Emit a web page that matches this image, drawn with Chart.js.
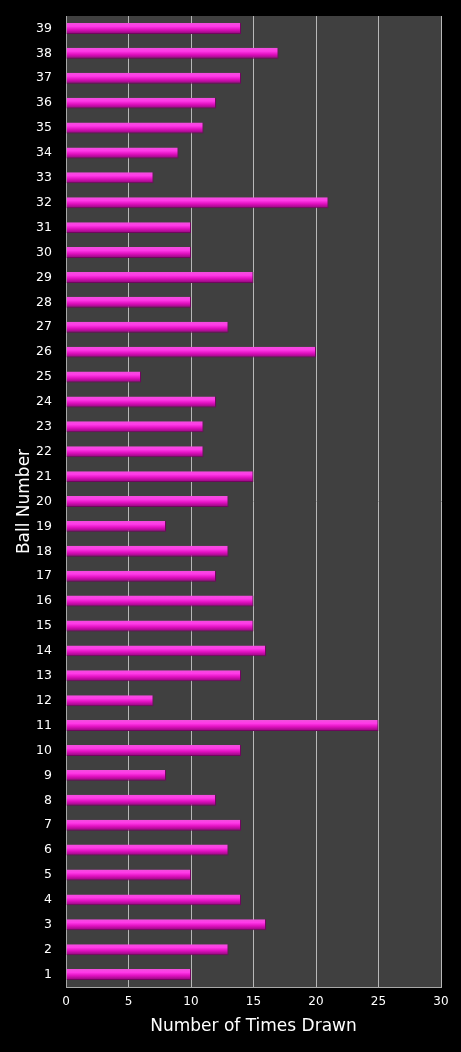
<!DOCTYPE html>
<html>
<head>
<meta charset="utf-8">
<script src="https://cdn.jsdelivr.net/npm/chart.js@4.4.0/dist/chart.umd.min.js"></script>
<style>
html,body{margin:0;padding:0;background:#000;}
#wrap{width:461px;height:1052px;}
</style>
</head>
<body>
<div id="wrap"><canvas id="c" width="461" height="1052"></canvas></div>
<script>
const ballNumbers = ["1","2","3","4","5","6","7","8","9","10","11","12","13","14","15","16","17","18","19","20","21","22","23","24","25","26","27","28","29","30","31","32","33","34","35","36","37","38","39"];
const timesDrawn = [10,13,16,14,10,13,14,12,8,14,25,7,14,16,15,15,12,13,8,13,15,11,11,12,6,20,13,10,15,10,10,21,7,9,11,12,14,17,14];
const xTicks = [0,5,10,15,20,25,30];
const xTitle = "Number of Times Drawn";
const yTitle = "Ball Number";

const plotBg = {
  id:'plotBg',
  beforeDraw(chart){
    const {ctx, chartArea:a} = chart;
    ctx.save();
    ctx.fillStyle='#000';
    ctx.fillRect(0,0,chart.width,chart.height);
    ctx.fillStyle='#404040';
    ctx.fillRect(a.left,a.top,a.right-a.left,a.bottom-a.top);
    ctx.restore();
  }
};
const barGrad = {
  id:'barGrad',
  beforeDatasetsDraw(chart){
    const ctx = chart.ctx;
    chart.getDatasetMeta(0).data.forEach(el=>{
      const top = el.y - el.height/2, bot = el.y + el.height/2;
      const g = ctx.createLinearGradient(0, top, 0, bot);
      g.addColorStop(0, '#f050dc');
      g.addColorStop(0.3, '#ff3ae8');
      g.addColorStop(0.6, '#e010c0');
      g.addColorStop(1, '#8a0874');
      el.options = Object.assign(Object.create(el.options), {backgroundColor: g});
    });
  }
};

new Chart(document.getElementById('c'), {
  type:'bar',
  data:{
    labels: ballNumbers,
    datasets:[{
      data: timesDrawn,
      backgroundColor:'#e010c0',
      borderColor:'#70065e',
      borderWidth:{top:0,left:0,right:1,bottom:1},
      categoryPercentage:1,
      barPercentage:0.44
    }]
  },
  options:{
    indexAxis:'y',
    responsive:false,
    animation:false,
    layout:{padding:{top:16,right:20,left:14,bottom:15}},
    plugins:{legend:{display:false},tooltip:{enabled:false}},
    scales:{
      x:{
        min:0,max:30,
        afterBuildTicks(s){ s.ticks = xTicks.map(v=>({value:v})); },
        afterFit(s){ s.height = 50; },
        grid:{color:'#b8b8b8',lineWidth:1,drawTicks:false},
        border:{color:'#a8a8a8',width:1},
        ticks:{color:'#ffffff',font:{family:'DejaVu Sans',size:12},padding:8},
        title:{display:true,text:xTitle,color:'#ffffff',font:{family:'DejaVu Sans',size:17},padding:{top:4,bottom:0}}
      },
      y:{
        reverse:true,
        afterFit(s){ s.width = 52; s.paddingTop = 0; s.paddingBottom = 0; },
        grid:{display:false,drawTicks:false},
        border:{color:'#a8a8a8',width:1},
        ticks:{color:'#ffffff',font:{family:'DejaVu Sans',size:12.5},padding:14,autoSkip:false},
        title:{display:true,text:yTitle,color:'#ffffff',font:{family:'DejaVu Sans',size:17},padding:{top:0,bottom:2}}
      }
    }
  },
  plugins:[plotBg, barGrad]
});
</script>
</body>
</html>
